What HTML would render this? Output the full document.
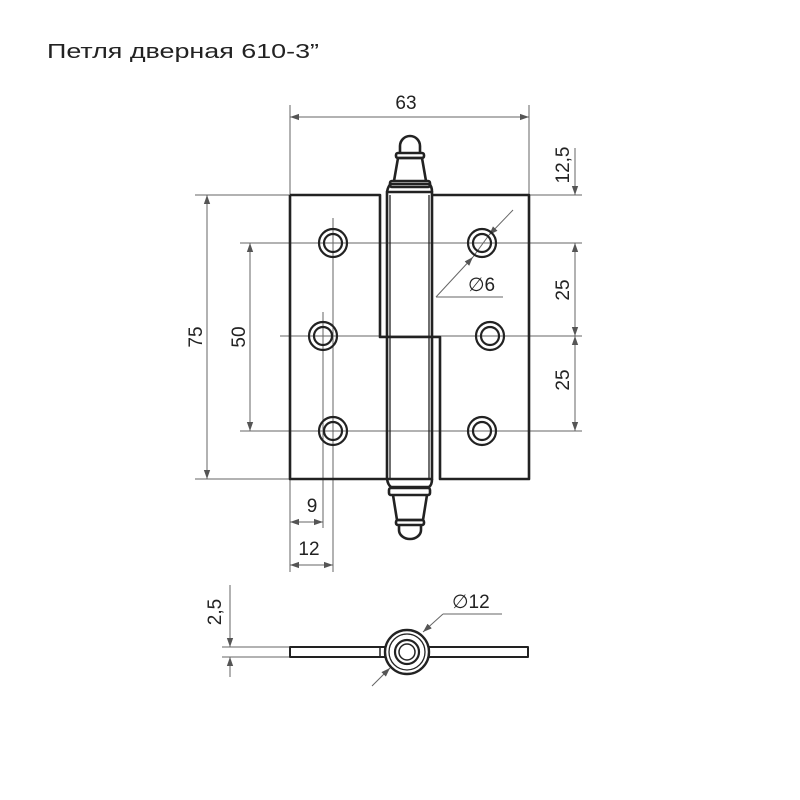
<!DOCTYPE html>
<html><head><meta charset="utf-8"><style>
html,body{margin:0;padding:0;background:#fff;}
svg{display:block}
text{font-family:"Liberation Sans",sans-serif;fill:#222;}
</style></head><body>
<svg width="800" height="800" viewBox="0 0 800 800" xmlns="http://www.w3.org/2000/svg">
<defs>
<marker id="a" viewBox="0 0 10 10" refX="10" refY="5" markerWidth="9" markerHeight="9" orient="auto-start-reverse" markerUnits="userSpaceOnUse"><path d="M0,1.5 L10,5 L0,8.5 z" fill="#555"/></marker>
</defs>
<text x="47" y="58" font-size="20" textLength="272" lengthAdjust="spacingAndGlyphs">Петля  дверная 610-3”</text>

<!-- thin lines -->
<g stroke="#666" stroke-width="1" fill="none">
<line x1="290" y1="105" x2="290" y2="195"/>
<line x1="529" y1="105" x2="529" y2="195"/>
<line x1="195" y1="195" x2="290" y2="195"/>
<line x1="195" y1="479" x2="290" y2="479"/>
<line x1="529" y1="195" x2="582" y2="195"/>
<line x1="240" y1="243" x2="582" y2="243"/>
<line x1="280" y1="336" x2="582" y2="336"/>
<line x1="240" y1="431" x2="582" y2="431"/>
<line x1="333" y1="218" x2="333" y2="572"/>
<line x1="323" y1="312" x2="323" y2="528"/>
<line x1="290" y1="479" x2="290" y2="572"/>
<line x1="436" y1="297" x2="503" y2="297"/>
<line x1="222" y1="647" x2="290" y2="647"/>
<line x1="222" y1="657" x2="290" y2="657"/>
<line x1="230" y1="585" x2="230" y2="647" marker-end="url(#a)"/>
<line x1="230" y1="677" x2="230" y2="657" marker-end="url(#a)"/>
<line x1="443" y1="614" x2="502" y2="614"/>
</g>
<g stroke="#666" stroke-width="1" fill="none" marker-start="url(#a)" marker-end="url(#a)">
<line x1="290" y1="117" x2="529" y2="117"/>
<line x1="207" y1="195" x2="207" y2="479"/>
<line x1="250" y1="243" x2="250" y2="431"/>
<line x1="575" y1="243" x2="575" y2="336"/>
<line x1="575" y1="336" x2="575" y2="431"/>
<line x1="290" y1="522" x2="323" y2="522"/>
<line x1="290" y1="565" x2="333" y2="565"/>
</g>
<g stroke="#666" stroke-width="1" fill="none">
<line x1="575" y1="148" x2="575" y2="195" marker-end="url(#a)"/>
<line x1="513" y1="210" x2="489" y2="235" marker-end="url(#a)"/>
<line x1="436" y1="297" x2="473" y2="257" marker-end="url(#a)"/>
<line x1="473" y1="257" x2="489" y2="235"/>
<line x1="443" y1="614" x2="423" y2="632" marker-end="url(#a)"/>
<line x1="372" y1="686" x2="390" y2="668" marker-end="url(#a)"/>
<line x1="390" y1="668" x2="420" y2="636"/>
</g>

<!-- labels -->
<g font-size="19">
<text x="406" y="109" text-anchor="middle">63</text>
<text x="312" y="512" text-anchor="middle">9</text>
<text x="309" y="555" text-anchor="middle">12</text>
<text x="468" y="291">∅6</text>
<text x="452" y="608">∅12</text>
<text transform="translate(202,337) rotate(-90)" text-anchor="middle">75</text>
<text transform="translate(245,337) rotate(-90)" text-anchor="middle">50</text>
<text transform="translate(569,165) rotate(-90)" text-anchor="middle">12,5</text>
<text transform="translate(569,290) rotate(-90)" text-anchor="middle">25</text>
<text transform="translate(569,380) rotate(-90)" text-anchor="middle">25</text>
<text transform="translate(221,612) rotate(-90)" text-anchor="middle">2,5</text>
</g>

<!-- thick outlines -->
<g stroke="#222" stroke-width="2.6" fill="none" stroke-linejoin="round">
<path d="M290,195 H380 V337 H440 V479 H529 V195 H432"/>
<path d="M290,195 V479 H387"/>
<rect x="387" y="192" width="45" height="287"/>
<line x1="390" y1="195" x2="390" y2="479" stroke-width="1.3"/>
<line x1="429" y1="195" x2="429" y2="479" stroke-width="1.3"/>
<!-- top finial -->
<path d="M387,192 Q388,186 391,184 H429 Q432,186 432,192"/>
<rect x="390" y="181" width="40" height="6" rx="2"/>
<path d="M394,181 L398,158 H422 L426,181"/>
<rect x="396" y="153" width="28" height="5" rx="2"/>
<path d="M400,153 V146 A10,10 0 0 1 420,146 V153"/>
<!-- bottom finial -->
<path d="M387,479 Q388,485 391,487 H429 Q432,485 432,479"/>
<rect x="389" y="488" width="41" height="7" rx="2"/>
<path d="M393,495 L397,520 H423 L427,495"/>
<rect x="396" y="520" width="28" height="5" rx="2"/>
<path d="M399,525 V530 A11,9 0 0 0 421,530 V525"/>
<!-- holes -->
<g stroke-width="2.2">
<circle cx="333" cy="243" r="14"/><circle cx="333" cy="243" r="9"/>
<circle cx="323" cy="336" r="14"/><circle cx="323" cy="336" r="9"/>
<circle cx="333" cy="431" r="14"/><circle cx="333" cy="431" r="9"/>
<circle cx="482" cy="243" r="14"/><circle cx="482" cy="243" r="9"/>
<circle cx="490" cy="336" r="14"/><circle cx="490" cy="336" r="9"/>
<circle cx="482" cy="431" r="14"/><circle cx="482" cy="431" r="9"/>
</g>
<!-- bottom view -->
<rect x="290" y="647" width="95" height="10" stroke-width="2"/>
<rect x="429" y="647" width="99" height="10" stroke-width="2"/>
<line x1="380" y1="647" x2="380" y2="657" stroke-width="1.5"/>
<circle cx="407" cy="652" r="22" fill="#fff" stroke-width="2.4"/>
<circle cx="407" cy="652" r="18" stroke-width="1.3"/>
<circle cx="407" cy="652" r="12" stroke-width="2.2"/>
<circle cx="407" cy="652" r="8" stroke-width="1.5"/>
</g>
</svg>
</body></html>
